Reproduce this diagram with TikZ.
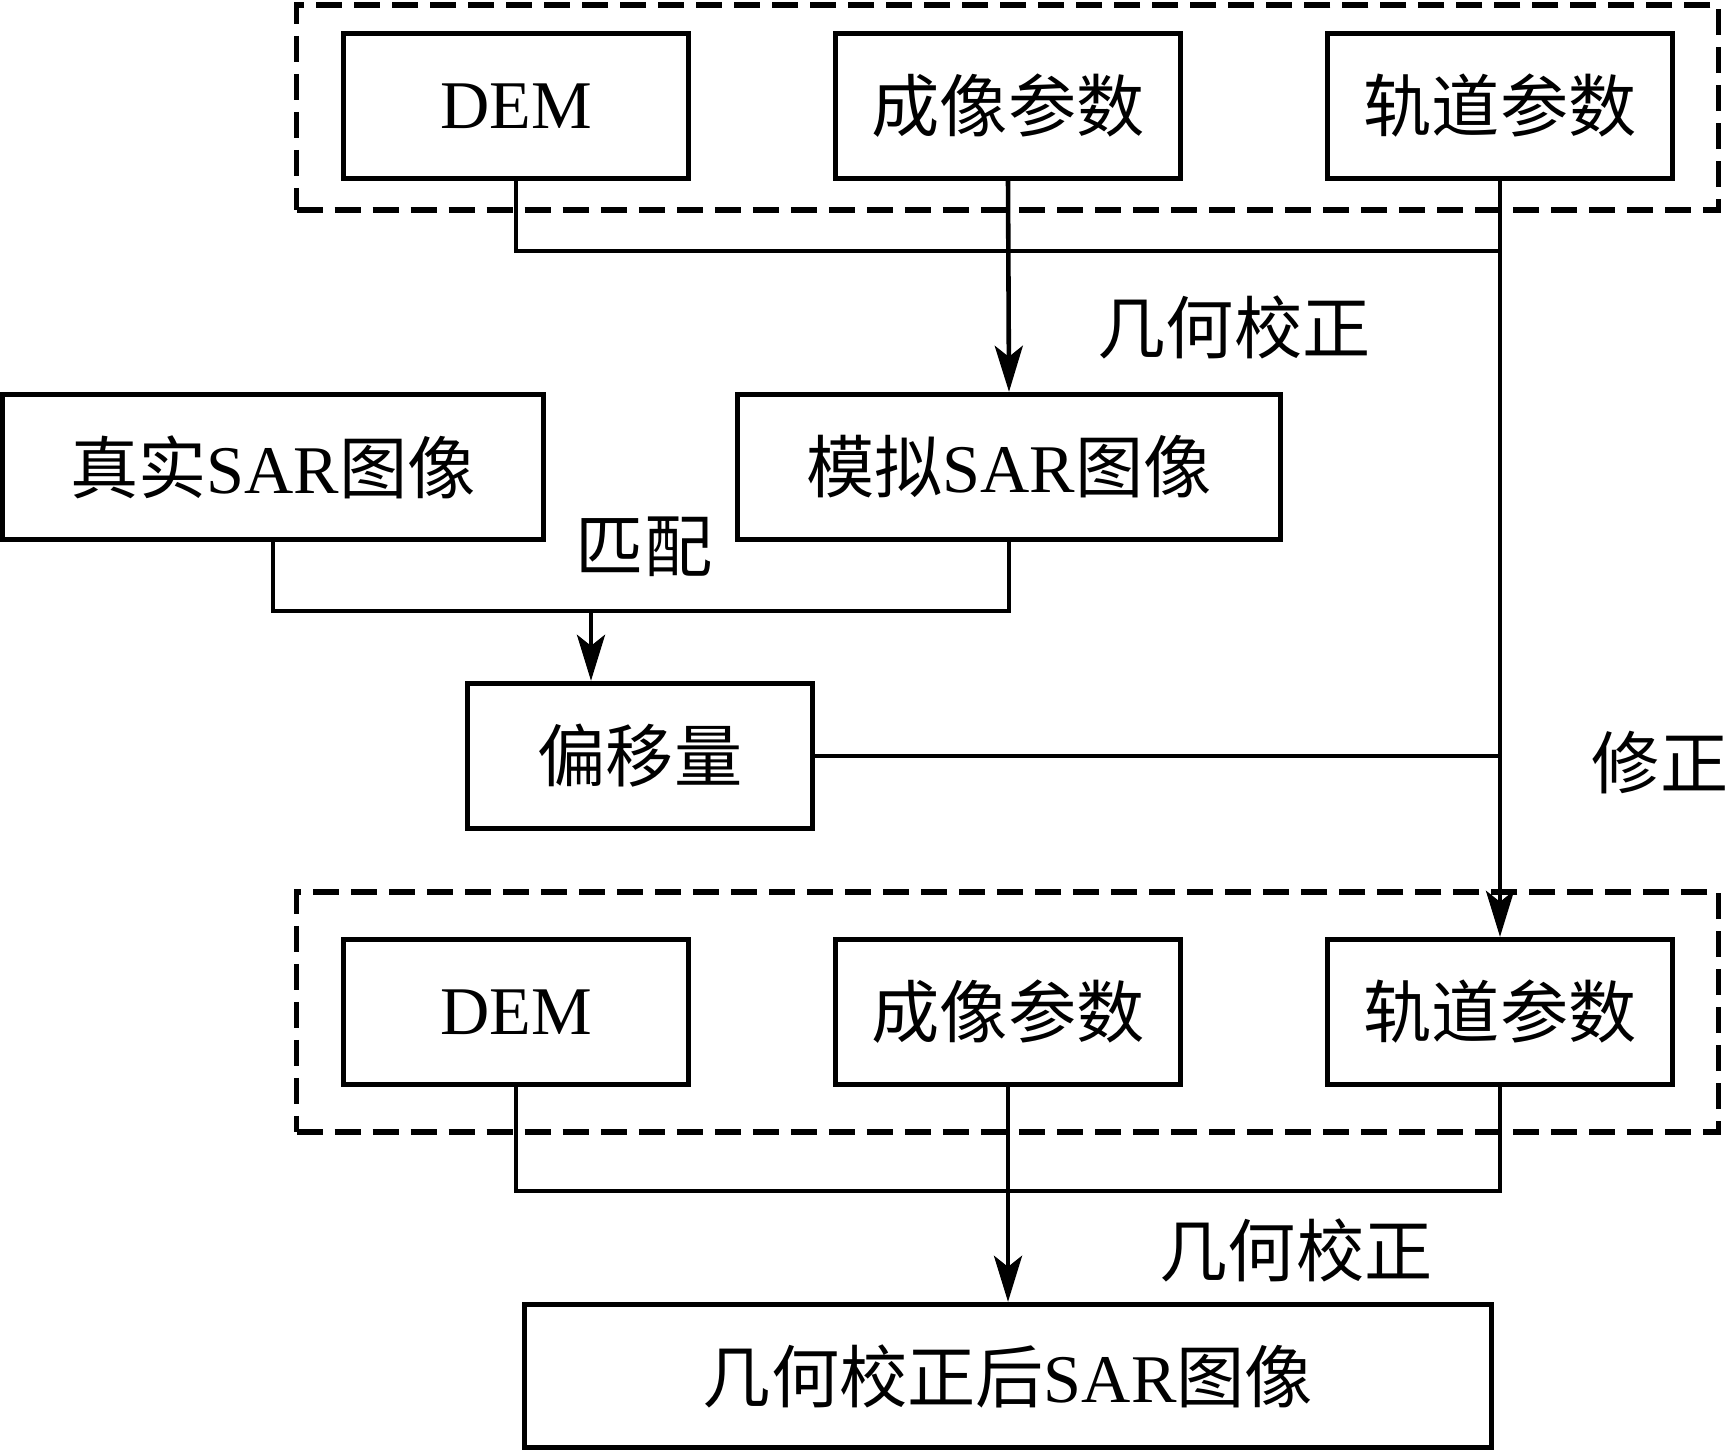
\documentclass[tikz,border=0pt]{standalone}
\usepackage{fontspec}
\setmainfont{Liberation Serif}
\newfontfamily\cjk{Noto Sans CJK SC}
\usetikzlibrary{arrows.meta}
\begin{document}
\begin{tikzpicture}[x=0.01cm,y=-0.01cm,
  box/.style={draw,line width=1.5pt,minimum width=3.45cm,minimum height=1.45cm,inner sep=0pt,font=\fontsize{19.4}{23}\selectfont},
  conn/.style={line width=1.3pt},
  arr/.style={conn,-{Stealth[length=4.6mm,width=2.8mm,inset=1.1mm]}},
  grp/.style={draw,line width=1.5pt,dash pattern=on 0.26cm off 0.12cm,inner sep=0pt},
  lbl/.style={font=\fontsize{19.4}{23}\selectfont\cjk,inner sep=0pt}]
\useasboundingbox (0,0) rectangle (1727,1453);
% top group
\node[grp,minimum width=14.21cm,minimum height=2.05cm] (g1) at (1007.5,107.5) {};
\node[box] (dem1) at (516,106) {DEM};
\node[box] (cx1) at (1008,106) {\cjk 成像参数};
\node[box] (orb1) at (1500,106) {\cjk 轨道参数};
% middle
\node[box,minimum width=5.4cm] (real) at (273,467) {{\cjk 真实}SAR{\cjk 图像}};
\node[box,minimum width=5.42cm] (sim) at (1009,467) {{\cjk 模拟}SAR{\cjk 图像}};
\node[box] (off) at (640,756) {\cjk 偏移量};
% bottom group
\node[grp,minimum width=14.21cm,minimum height=2.4cm] (g2) at (1007.5,1012) {};
\node[box] (dem2) at (516,1012) {DEM};
\node[box] (cx2) at (1008,1012) {\cjk 成像参数};
\node[box] (orb2) at (1500,1012) {\cjk 轨道参数};
\node[box,minimum width=9.67cm,minimum height=1.43cm] (final) at (1008,1376) {{\cjk 几何校正后}SAR{\cjk 图像}};
% labels
\node[lbl] (l1) at (1234,327) {几何校正};
\node[lbl] (l2) at (644,547) {匹配};
\node[lbl] (l3) at (1660,763) {修正};
\node[lbl] (l4) at (1296,1250) {几何校正};
% connectors
\coordinate (j1) at (1500,251);
\draw[conn] (dem1.south) |- (j1);
\draw[arr] (cx1.south) -- (sim.north);
\draw[arr] (orb1.south) -- (orb2.north);
\coordinate (m) at (591,611);
\draw[conn] (real.south) |- (m) -| (sim.south);
\draw[arr] (m) -- (off.north -| m);
\draw[conn] (off.east) -- (off.east -| orb1.south);
\coordinate (j2) at (1500,1191);
\draw[conn] (dem2.south) |- (j2) -- (orb2.south);
\draw[arr] (cx2.south) -- (final.north);
\end{tikzpicture}
\end{document}
